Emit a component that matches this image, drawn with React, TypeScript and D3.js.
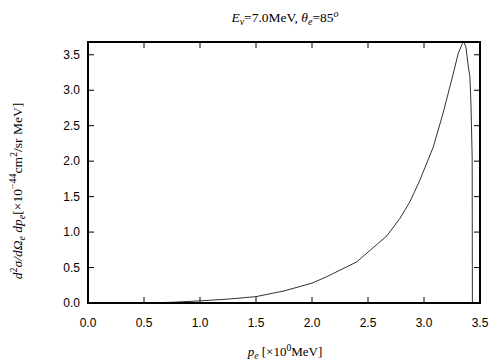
import React from "react";
import * as d3 from "d3";

const momentum = [0.5, 0.75, 1.0, 1.25, 1.5, 1.75, 2.0, 2.13, 2.4, 2.67, 2.786, 2.875, 2.964, 3.083, 3.17, 3.247, 3.306, 3.34, 3.357, 3.375, 3.396, 3.41, 3.42, 3.43, 3.432];
const crossSection = [0.0, 0.01, 0.03, 0.055, 0.09, 0.17, 0.28, 0.37, 0.58, 0.95, 1.195, 1.43, 1.735, 2.2, 2.675, 3.145, 3.52, 3.65, 3.68, 3.6, 3.33, 3.19, 2.77, 2.06, 0.0];
const xTicks = [0, 0.5, 1.0, 1.5, 2.0, 2.5, 3.0, 3.5];
const yTicks = [0, 0.5, 1.0, 1.5, 2.0, 2.5, 3.0, 3.5];

export default function App() {
  const W = 504, H = 360;
  const L = 88, R = 480, T = 42, B = 303;
  const x = d3.scaleLinear().domain([0, 3.5]).range([L, R]);
  const y = d3.scaleLinear().domain([0, 3.68]).range([B, T]);
  const pts = momentum.map((m, i) => [m, crossSection[i]] as [number, number]);
  const line = d3.line<[number, number]>().x(d => x(d[0])).y(d => y(d[1]))(pts) || "";
  const tl = 6;
  const sans = "Liberation Sans, Arial, sans-serif";
  const serif = "Liberation Serif, Times New Roman, serif";
  return (
    <svg width={W} height={H} style={{ position: "absolute", left: 0, top: 0, background: "#fff" }}>
      <rect x={0} y={0} width={W} height={H} fill="#fff" />
      {xTicks.map(t => (
        <g key={"x" + t}>
          <line x1={x(t)} x2={x(t)} y1={B} y2={B - tl} stroke="#000" strokeWidth={1} />
          <line x1={x(t)} x2={x(t)} y1={T} y2={T + tl} stroke="#000" strokeWidth={1} />
          <text x={x(t)} y={327} textAnchor="middle" fontFamily={sans} fontSize={12} fill="#000">{t.toFixed(1)}</text>
        </g>
      ))}
      {yTicks.map(t => (
        <g key={"y" + t}>
          <line x1={L} x2={L + tl} y1={y(t)} y2={y(t)} stroke="#000" strokeWidth={1} />
          <line x1={R} x2={R - tl} y1={y(t)} y2={y(t)} stroke="#000" strokeWidth={1} />
          <text x={80} y={y(t) + 4} textAnchor="end" fontFamily={sans} fontSize={12} fill="#000">{t.toFixed(1)}</text>
        </g>
      ))}
      <path d={line} fill="none" stroke="#333" strokeWidth={1} />
      <rect x={L} y={T} width={R - L} height={B - T} fill="none" stroke="#000" strokeWidth={2} />
      <text x={285} y={22} textAnchor="middle" fontFamily={serif} fontSize={13.5} fill="#000">
        <tspan fontStyle="italic">E</tspan>
        <tspan fontSize={10} dy={3} fontStyle="italic">ν</tspan>
        <tspan dy={-3}>=7.0MeV,  </tspan>
        <tspan fontStyle="italic">θ</tspan>
        <tspan fontSize={10} dy={3} fontStyle="italic">e</tspan>
        <tspan dy={-3}>=85</tspan>
        <tspan fontSize={10} dy={-5} fontStyle="italic">o</tspan>
      </text>
      <text x={285} y={356} textAnchor="middle" fontFamily={serif} fontSize={13} fill="#000">
        <tspan fontStyle="italic">p</tspan>
        <tspan fontSize={9.5} dy={3} fontStyle="italic">e</tspan>
        <tspan dy={-3}> [×10</tspan>
        <tspan fontSize={9.5} dy={-5}>0</tspan>
        <tspan dy={5}>MeV]</tspan>
      </text>
      <text transform="translate(22,191) rotate(-90)" textAnchor="middle" fontFamily={serif} fontSize={13.5} fill="#000">
        <tspan fontStyle="italic">d</tspan>
        <tspan fontSize={10} dy={-5}>2</tspan>
        <tspan dy={5} fontStyle="italic">σ/dΩ</tspan>
        <tspan fontSize={10} dy={3} fontStyle="italic">e</tspan>
        <tspan dy={-3} fontStyle="italic"> dp</tspan>
        <tspan fontSize={10} dy={3} fontStyle="italic">e</tspan>
        <tspan dy={-3}>[×10</tspan>
        <tspan fontSize={10} dy={-6}>−44</tspan>
        <tspan dy={6}>cm</tspan>
        <tspan fontSize={10} dy={-5}>2</tspan>
        <tspan dy={5}>/sr MeV]</tspan>
      </text>
    </svg>
  );
}
